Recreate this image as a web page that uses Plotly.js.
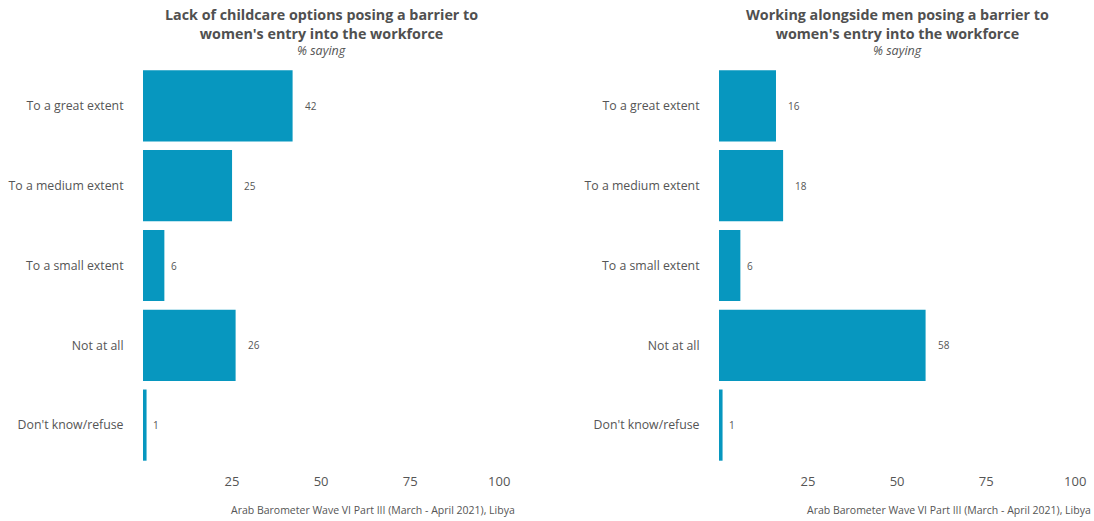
<!DOCTYPE html>
<html>
<head>
<meta charset="utf-8">
<script src="https://cdn.plot.ly/plotly-3.0.1.min.js"></script>
<style>html,body{margin:0;padding:0;background:#fff;}#chart{width:1094px;height:521px;}</style>
</head>
<body>
<div id="chart"></div>
<script>
const categories = ["To a great extent", "To a medium extent", "To a small extent", "Not at all", "Don't know/refuse"];
const childcareValues = [42, 25, 6, 26, 1];
const menValues = [16, 18, 6, 58, 1];
const xTicks = [25, 50, 75, 100];
const titleLeft = "Lack of childcare options posing a barrier to<br>women's entry into the workforce";
const titleRight = "Working alongside men posing a barrier to<br>women's entry into the workforce";
const subtitle = "% saying";
const caption = "Arab Barometer Wave VI Part III (March - April 2021), Libya";

const FONT = "Open Sans, sans-serif";
const GREY = "#555555";
const BAR = "#0797BF";
const W = 1094, H = 521;
const TOP = 66, BOTTOM = 465;

const traces = [
  {type: "bar", orientation: "h", x: childcareValues, y: categories, xaxis: "x", yaxis: "y",
   marker: {color: BAR}, hoverinfo: "none"},
  {type: "bar", orientation: "h", x: menValues, y: categories, xaxis: "x2", yaxis: "y2",
   marker: {color: BAR}, hoverinfo: "none"}
];

const xDomL = [143 / W, 517 / W];
const xDomR = [719 / W, 1093 / W];

function xax(dom, anchor) {
  return {domain: dom, range: [0, 105], anchor: anchor, tickvals: xTicks, ticktext: xTicks.map(String),
    showgrid: false, zeroline: false, showline: false, ticks: "", ticklen: 0, ticklabelstandoff: 7,
    tickfont: {family: FONT, size: 13, color: GREY}, fixedrange: true};
}
function yax(anchor) {
  return {domain: [0, 1], anchor: anchor, type: "category", categoryorder: "array", categoryarray: categories,
    autorange: "reversed", showgrid: false, zeroline: false, showline: false, ticks: "outside", ticklen: 16,
    tickcolor: "rgba(0,0,0,0)", tickfont: {family: FONT, size: 12.3, color: GREY}, fixedrange: true};
}

const annotations = [];
function addValueLabels(vals, xr, yr) {
  vals.forEach((v, i) => {
    const s = String(v);
    annotations.push({x: v, y: categories[i], xref: xr, yref: yr, text: s, showarrow: false,
      xanchor: "left", yanchor: "middle", xshift: 5.6 * s.length - 1,
      font: {family: FONT, size: 10, color: GREY}});
  });
}
addValueLabels(childcareValues, "x", "y");
addValueLabels(menValues, "x2", "y2");

function py(p) { return 1 - (p - TOP) / (BOTTOM - TOP); }
function titleAnn(text, cx) {
  annotations.push({x: cx, y: py(24), xref: "paper", yref: "paper", text: "<b>" + text + "</b>",
    showarrow: false, xanchor: "center", yanchor: "middle", align: "center",
    font: {family: FONT, size: 14.3, color: "#505050"}});
  annotations.push({x: cx, y: py(51), xref: "paper", yref: "paper", text: "<i>" + subtitle + "</i>",
    showarrow: false, xanchor: "center", yanchor: "middle", font: {family: FONT, size: 12.5, color: GREY}});
}
titleAnn(titleLeft, 321 / W);
titleAnn(titleRight, 897 / W);
function captionAnn(xr) {
  annotations.push({x: xr, y: py(510), xref: "paper", yref: "paper", text: caption, showarrow: false,
    xanchor: "right", yanchor: "middle", font: {family: FONT, size: 10.5, color: GREY}});
}
captionAnn(517 / W);
captionAnn(1093 / W);

const layout = {
  width: W, height: H,
  margin: {l: 0, r: 0, t: TOP, b: H - BOTTOM},
  paper_bgcolor: "#ffffff", plot_bgcolor: "#ffffff",
  showlegend: false, bargap: 0.108,
  xaxis: xax(xDomL, "y"),
  yaxis: yax("x"),
  xaxis2: xax(xDomR, "y2"),
  yaxis2: yax("x2"),
  annotations: annotations
};
Plotly.newPlot("chart", traces, layout, {displayModeBar: false, staticPlot: true});
</script>
</body>
</html>
